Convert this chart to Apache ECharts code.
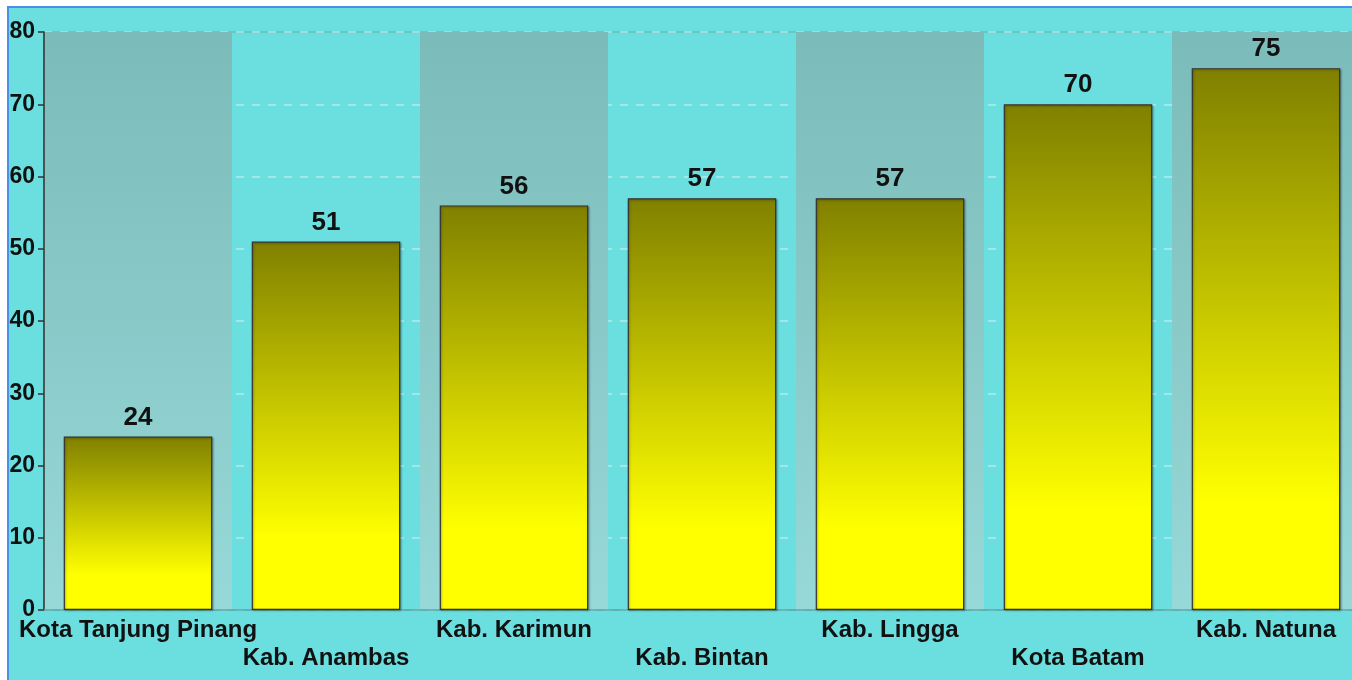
<!DOCTYPE html>
<html>
<head>
<meta charset="utf-8">
<script src="https://cdn.jsdelivr.net/npm/echarts@6/dist/echarts.min.js"></script>
<style>
html,body{margin:0;padding:0;background:#ffffff;overflow:hidden;width:1352px;height:680px;}
#frame{position:absolute;left:7px;top:6px;width:1350px;height:680px;background:#6bdfdf;border-left:2px solid #4a8fe8;border-top:2px solid #4a8fe8;}
#chart{position:absolute;left:0;top:0;width:1360px;height:680px;}
</style>
</head>
<body>
<div id="frame"></div>
<div id="chart"></div>
<script>
var categories = ['Kota Tanjung Pinang','Kab. Anambas','Kab. Karimun','Kab. Bintan','Kab. Lingga','Kota Batam','Kab. Natuna'];
var values = [24, 51, 56, 57, 57, 70, 75];
var yMin = 0, yMax = 80, yStep = 10;

var chart = echarts.init(document.getElementById('chart'), null, {renderer:'canvas'});
var font = '"Liberation Sans", Arial, sans-serif';
chart.setOption({
  backgroundColor: 'transparent',
  animation: false,
  grid: {left: 44, top: 32, right: 0, bottom: 70, show: true, backgroundColor: 'transparent', borderColor: '#5cb3b3', borderWidth: 1.2},
  xAxis: {
    type: 'category',
    data: categories,
    axisLine: {show: true, lineStyle: {color: '#58abab', width: 1.5}},
    axisTick: {show: false},
    splitArea: {
      show: true,
      areaStyle: {
        color: [
          {type:'linear', x:0, y:0, x2:0, y2:1, colorStops:[{offset:0,color:'#7bbcba'},{offset:1,color:'#97d8d8'}]},
          'rgba(0,0,0,0)'
        ]
      }
    },
    axisLabel: {
      interval: 0,
      margin: 6,
      fontFamily: font,
      fontWeight: 'bold',
      fontSize: 24,
      lineHeight: 28,
      color: '#111',
      formatter: function (v, i) { return i % 2 ? '\n' + v : v; }
    }
  },
  yAxis: {
    type: 'value',
    min: yMin, max: yMax, interval: yStep,
    axisLine: {show: true, lineStyle: {color: '#333', width: 1.5}},
    axisTick: {show: true, length: 6, lineStyle: {color: '#333', width: 1.5}},
    axisLabel: {fontFamily: font, fontWeight: 'bold', fontSize: 23, color: '#111', margin: 9},
    splitLine: {show: true, lineStyle: {color: 'rgba(230,245,245,0.6)', type: [8, 8], width: 1.5}}
  },
  series: [{
    type: 'bar',
    data: values,
    barCategoryGap: '21%',
    itemStyle: {
      color: {type:'linear', x:0, y:0, x2:0, y2:1, colorStops:[
        {offset:0, color:'#808000'},
        {offset:0.8, color:'#ffff00'},
        {offset:1, color:'#ffff00'}
      ]},
      borderColor: '#333',
      borderWidth: 1.2,
      shadowColor: 'rgba(0,0,0,0.3)',
      shadowBlur: 2,
      shadowOffsetX: 1,
      shadowOffsetY: 1
    },
    label: {
      show: true,
      position: 'top',
      distance: 6,
      fontFamily: font,
      fontWeight: 'bold',
      fontSize: 26,
      color: '#111'
    }
  }]
});
</script>
</body>
</html>
